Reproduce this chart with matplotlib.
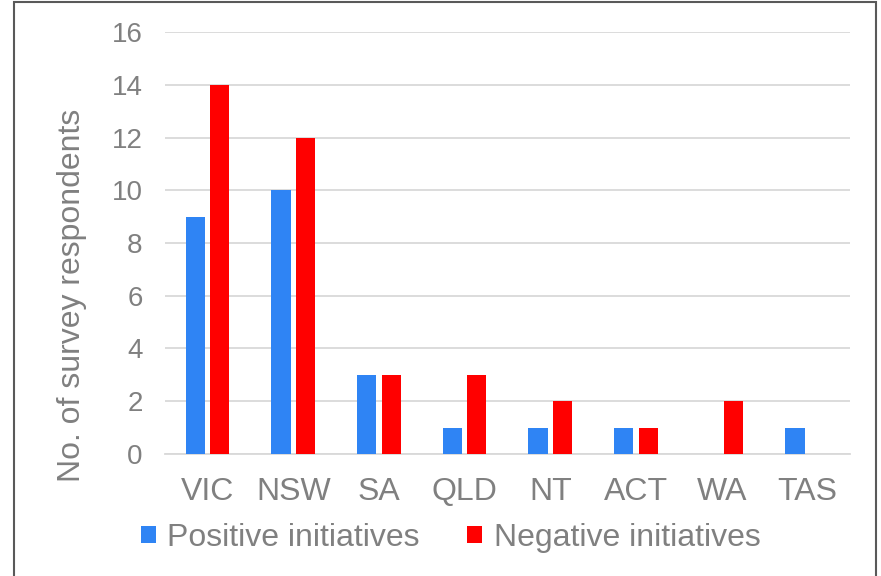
import numpy as np
import matplotlib.pyplot as plt
from matplotlib.patches import Rectangle

states = ['VIC', 'NSW', 'SA', 'QLD', 'NT', 'ACT', 'WA', 'TAS']
positive = [9, 10, 3, 1, 1, 1, 0, 1]
negative = [14, 12, 3, 3, 2, 1, 2, 0]

plt.rcParams['font.family'] = ['Liberation Sans', 'DejaVu Sans']
gray = '#808080'

fig = plt.figure(figsize=(8.81, 5.76), dpi=100)
ax = fig.add_axes([0.187, 0.212, 0.778, 0.732])

x = np.arange(len(states))
w = 0.225
gap = 0.06
ax.bar(x - (w + gap) / 2, positive, w, color='#2f84f4', label='Positive initiatives', zorder=3)
ax.bar(x + (w + gap) / 2, negative, w, color='#ff0000', label='Negative initiatives', zorder=3)

ax.set_xlim(-0.5, len(states) - 0.5)
ax.set_ylim(0, 16)
ax.set_yticks(range(0, 17, 2))
ax.set_xticks(x)
ax.set_xticklabels(states)
ax.grid(axis='y', color='#d9d9d9', linewidth=1.3, zorder=0)
for s in ['top', 'right', 'left']:
    ax.spines[s].set_visible(False)
ax.spines['bottom'].set_color('#d9d9d9')
ax.spines['bottom'].set_linewidth(1.3)
ax.tick_params(axis='y', length=0, labelsize=20, labelcolor=gray, pad=16)
ax.tick_params(axis='x', length=0, labelsize=23, labelcolor=gray, pad=17)
ax.set_ylabel('No. of survey respondents', fontsize=23, color=gray)
ax.yaxis.set_label_coords(-0.113, 0.377)

ax.legend(loc='upper center', bbox_to_anchor=(0.417, -0.095), ncol=2, frameon=False,
          fontsize=23, labelcolor=gray, handlelength=0.47, handleheight=0.47,
          handletextpad=0.35, columnspacing=1.5)

fig.patches.append(Rectangle((14 / 881, -0.01), 862 / 881, 1 - 2 / 576 + 0.01,
                             transform=fig.transFigure, fill=False,
                             edgecolor='#595959', linewidth=1.5))

fig.savefig('out.png', dpi=100)
